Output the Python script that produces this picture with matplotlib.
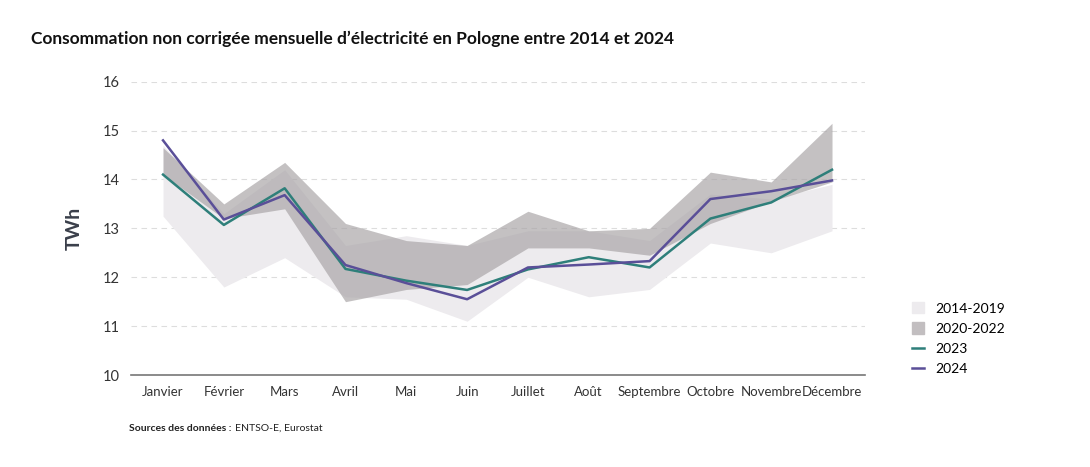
import matplotlib
matplotlib.use("Agg")
import matplotlib.pyplot as plt
from matplotlib.patches import Patch
from matplotlib.lines import Line2D

plt.rcParams["font.family"] = ["Lato", "DejaVu Sans"]

MONTHS = ["Janvier", "Février", "Mars", "Avril", "Mai", "Juin", "Juillet",
          "Août", "Septembre", "Octobre", "Novembre", "Décembre"]
BAND_1419_LOW = [13.25, 11.8, 12.4, 11.6, 11.55, 11.1, 12.0, 11.6, 11.75, 12.7, 12.5, 12.95]
BAND_1419_HIGH = [14.7, 13.3, 14.2, 12.65, 12.85, 12.65, 12.95, 12.95, 12.75, 13.7, 13.6, 13.9]
BAND_2022_LOW = [14.1, 13.2, 13.4, 11.5, 11.75, 11.85, 12.6, 12.6, 12.45, 13.1, 13.55, 13.95]
BAND_2022_HIGH = [14.65, 13.5, 14.35, 13.1, 12.75, 12.65, 13.35, 12.95, 13.0, 14.15, 13.95, 15.15]
Y2023 = [14.1, 13.07, 13.82, 12.17, 11.93, 11.74, 12.16, 12.41, 12.2, 13.2, 13.53, 14.2]
Y2024 = [14.8, 13.18, 13.68, 12.25, 11.88, 11.55, 12.2, 12.26, 12.33, 13.6, 13.76, 13.98]

C_LIGHT = "#edebee"
C_DARK = "#a8a4a6"
C_2023 = "#2e7f7a"
C_2024 = "#5a4f98"

fig = plt.figure(figsize=(10.9, 4.67), dpi=100)
ax = fig.add_axes([0.12, 0.197, 0.674, 0.628])
x = range(len(MONTHS))

ax.fill_between(x, BAND_1419_LOW, BAND_1419_HIGH, color=C_LIGHT, lw=0)
ax.fill_between(x, BAND_2022_LOW, BAND_2022_HIGH, color=C_DARK, alpha=0.68, lw=0)
ax.plot(x, Y2023, color=C_2023, lw=1.8)
ax.plot(x, Y2024, color=C_2024, lw=1.8)

ax.set_ylim(10, 16)
ax.set_xlim(-0.53, 11.55)
ax.set_yticks(range(10, 17))
ax.set_xticks(list(x))
ax.set_xticklabels(MONTHS)
ax.tick_params(axis="x", labelsize=9.5)
ax.tick_params(axis="y", labelsize=10.5)
ax.tick_params(length=0, colors="#333333", pad=8)
ax.yaxis.grid(True, ls=(0, (5, 4)), color="#dddddd", lw=0.8)
ax.set_axisbelow(True)
for s in ["top", "right", "left"]:
    ax.spines[s].set_visible(False)
ax.spines["bottom"].set_color("#777777")
ax.spines["bottom"].set_linewidth(1.2)
ax.set_ylabel("TWh", fontsize=14, fontweight="bold", color="#3a3f4a", labelpad=14)

handles = [Patch(color=C_LIGHT), Patch(color="#c2bec0"),
           Line2D([], [], color=C_2023, lw=1.8), Line2D([], [], color=C_2024, lw=1.8)]
fig.legend(handles, ["2014-2019", "2020-2022", "2023", "2024"],
           loc="lower left", bbox_to_anchor=(0.825, 0.17), frameon=False,
           fontsize=10, handlelength=0.9, handleheight=0.9, labelspacing=0.55)

fig.text(0.028, 0.905, "Consommation non corrigée mensuelle d’électricité en Pologne entre 2014 et 2024",
         fontsize=12.5, fontweight="bold", color="#111111")
fig.text(0.118, 0.078, "Sources des données : ", fontsize=7.5, fontweight="bold", color="#222222")
fig.text(0.216, 0.078, "ENTSO-E, Eurostat", fontsize=7.5, color="#222222")

fig.savefig("out.png", dpi=100)
